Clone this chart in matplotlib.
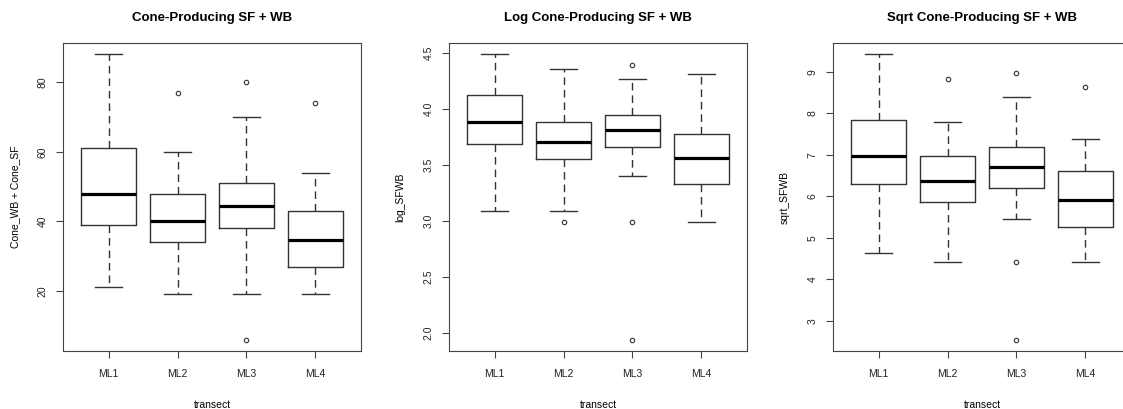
import matplotlib
matplotlib.use("Agg")
import matplotlib.pyplot as plt

plt.rcParams.update({
    'font.family': ['Liberation Sans', 'DejaVu Sans'],
    'font.size': 7.5,
    'axes.linewidth': 0.8,
    'axes.edgecolor': '#444444',
    'xtick.color': '#444444',
    'ytick.color': '#444444',
    'xtick.labelcolor': '#222222',
    'ytick.labelcolor': '#222222',
})

transects = ['ML1', 'ML2', 'ML3', 'ML4']

# Five-number summaries: whisker low, Q1, median, Q3, whisker high
raw_lo = [21, 19, 19, 19]
raw_q1 = [39, 34, 38, 27]
raw_med = [48, 40, 44.5, 34.5]
raw_q3 = [61, 48, 51, 43]
raw_hi = [88, 60, 70, 54]
raw_out = [[], [77], [80, 6], [74]]

log_lo = [3.095, 3.095, 3.40, 2.993]
log_q1 = [3.689, 3.554, 3.661, 3.333]
log_med = [3.888, 3.712, 3.816, 3.566]
log_q3 = [4.124, 3.888, 3.951, 3.781]
log_hi = [4.49, 4.36, 4.267, 4.318]
log_out = [[], [2.993], [4.399, 2.993, 1.943], []]

sqrt_lo = [4.64, 4.415, 5.445, 4.415]
sqrt_q1 = [6.298, 5.871, 6.209, 5.252]
sqrt_med = [6.973, 6.37, 6.708, 5.92]
sqrt_q3 = [7.85, 6.965, 7.182, 6.603]
sqrt_hi = [9.418, 7.785, 8.397, 7.391]
sqrt_out = [[], [8.815], [8.976, 4.415, 2.549], [8.638]]

panels = [
    ('Cone-Producing SF + WB', 'Cone_WB + Cone_SF',
     raw_lo, raw_q1, raw_med, raw_q3, raw_hi, raw_out, [20, 40, 60, 80]),
    ('Log Cone-Producing SF + WB', 'log_SFWB',
     log_lo, log_q1, log_med, log_q3, log_hi, log_out, [2.0, 2.5, 3.0, 3.5, 4.0, 4.5]),
    ('Sqrt Cone-Producing SF + WB', 'sqrt_SFWB',
     sqrt_lo, sqrt_q1, sqrt_med, sqrt_q3, sqrt_hi, sqrt_out, [3, 4, 5, 6, 7, 8, 9]),
]

W, H = 1123, 409
fig = plt.figure(figsize=(W / 100, H / 100), dpi=100)
lefts = [63, 449, 833]

for left, (title, ylabel, lo, q1, med, q3, hi, out, yticks) in zip(lefts, panels):
    ax = fig.add_axes([left / W, 58 / H, 298 / W, 308 / H])
    stats = []
    for i, name in enumerate(transects):
        stats.append({'label': name, 'whislo': lo[i], 'q1': q1[i], 'med': med[i],
                      'q3': q3[i], 'whishi': hi[i], 'fliers': out[i]})
    ax.bxp(stats, positions=[1, 2, 3, 4], widths=0.8, capwidths=0.4,
           boxprops=dict(color='#333333', linewidth=1.0),
           medianprops=dict(color='black', linewidth=2.3, solid_capstyle='butt'),
           whiskerprops=dict(color='#333333', linewidth=1.0, linestyle=(0, (5.5, 3.5))),
           capprops=dict(color='#333333', linewidth=1.0),
           flierprops=dict(marker='o', markersize=3.2, markerfacecolor='none',
                           markeredgecolor='#333333', markeredgewidth=0.8))

    # R-style limits: 4% padding on the data range
    allv = lo + hi + [v for o in out for v in o]
    vmin, vmax = min(allv), max(allv)
    pad = 0.04 * (vmax - vmin)
    ax.set_ylim(vmin - pad, vmax + pad)
    ax.set_xlim(0.34, 4.66)

    ax.set_yticks(yticks)
    ax.set_yticklabels([f'{t:g}' if isinstance(t, int) else f'{t:.1f}' for t in yticks],
                       rotation=90, va='center')
    ax.set_xticks([1, 2, 3, 4])
    ax.set_xticklabels(transects)
    ax.tick_params(axis='both', length=5, width=0.8, labelsize=7.5)
    ax.tick_params(axis='x', pad=8)
    ax.tick_params(axis='y', pad=6)

    ax.set_title(title, fontsize=9.5, fontweight='bold', pad=16)
    ax.set_xlabel('transect', fontsize=7.5, labelpad=15)
    ax.set_ylabel(ylabel, fontsize=7.5, labelpad=13)

fig.savefig('out.png', dpi=100)
